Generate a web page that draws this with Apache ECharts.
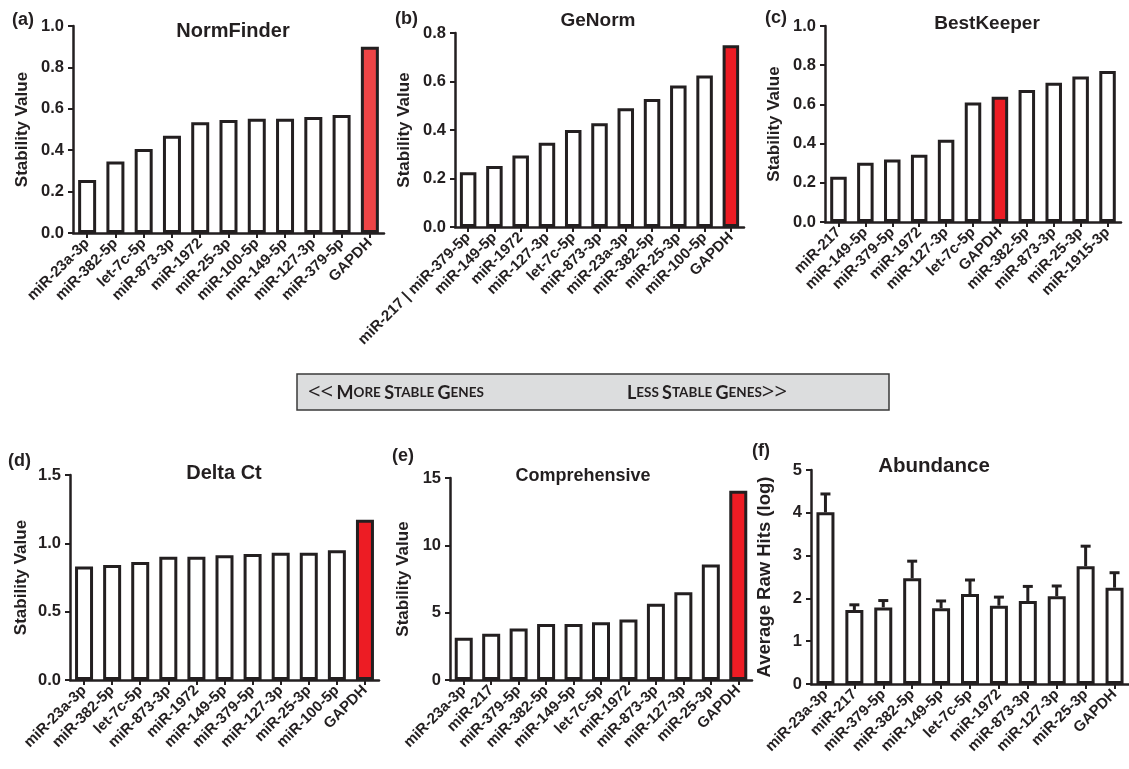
<!DOCTYPE html>
<html>
<head>
<meta charset="utf-8">
<script src="https://cdn.jsdelivr.net/npm/echarts@6/dist/echarts.min.js"></script>
<style>
html,body{margin:0;padding:0;background:#fff;}
#chart{width:1129px;height:769px;}
</style>
</head>
<body>
<div id="chart"></div>
<script>
// ---------- DATA ----------
const normFinderCats = ['miR-23a-3p','miR-382-5p','let-7c-5p','miR-873-3p','miR-1972','miR-25-3p','miR-100-5p','miR-149-5p','miR-127-3p','miR-379-5p','GAPDH'];
const normFinderVals = [0.256,0.345,0.406,0.47,0.535,0.546,0.552,0.552,0.56,0.57,0.90];

const geNormCats = ['miR-217 | miR-379-5p','miR-149-5p','miR-1972','miR-127-3p','let-7c-5p','miR-873-3p','miR-23a-3p','miR-382-5p','miR-25-3p','miR-100-5p','GAPDH'];
const geNormVals = [0.226,0.252,0.295,0.347,0.40,0.428,0.49,0.528,0.583,0.625,0.749];

const bestKeeperCats = ['miR-217','miR-149-5p','miR-379-5p','miR-1972','miR-127-3p','let-7c-5p','GAPDH','miR-382-5p','miR-873-3p','miR-25-3p','miR-1915-3p'];
const bestKeeperVals = [0.231,0.302,0.319,0.343,0.42,0.61,0.639,0.673,0.71,0.742,0.77];

const deltaCtCats = ['miR-23a-3p','miR-382-5p','let-7c-5p','miR-873-3p','miR-1972','miR-149-5p','miR-379-5p','miR-127-3p','miR-25-3p','miR-100-5p','GAPDH'];
const deltaCtVals = [0.831,0.841,0.863,0.902,0.902,0.912,0.922,0.932,0.932,0.949,1.172];

const comprehensiveCats = ['miR-23a-3p','miR-217','miR-379-5p','miR-382-5p','miR-149-5p','let-7c-5p','miR-1972','miR-873-3p','miR-127-3p','miR-25-3p','GAPDH'];
const comprehensiveVals = [3.14,3.44,3.83,4.15,4.15,4.28,4.5,5.66,6.52,8.58,14.06];

const abundanceCats = ['miR-23a-3p','miR-217','miR-379-5p','miR-382-5p','miR-149-5p','let-7c-5p','miR-1972','miR-873-3p','miR-127-3p','miR-25-3p','GAPDH'];
const abundanceVals = [4.01,1.73,1.79,2.47,1.77,2.10,1.83,1.94,2.05,2.75,2.25];
const abundanceErr  = [0.43,0.12,0.16,0.40,0.17,0.33,0.20,0.34,0.24,0.47,0.35];

const panelLetters = ['(a)','(b)','(c)','(d)','(e)','(f)'];
const panelTitles = ['NormFinder','GeNorm','BestKeeper','Delta Ct','Comprehensive','Abundance'];
const bannerLeft = '<< More Stable Genes';
const bannerRight = 'Less Stable Genes>>';

// ---------- STYLE / LAYOUT ----------
const INK = '#231F20';
const FONT = '"Liberation Sans", Arial, sans-serif';
const RED = '#ED1C24';
const RED_LIGHT = '#EE4446';

const panels = [
  {cats: normFinderCats, vals: normFinderVals, red: 10, redColor: RED_LIGHT, max: 1.0, interval: 0.2, dec: 1, name: 'Stability Value', nameSize: 17,
   grid: {left: 73, top: 26, width: 311, height: 207}, nameGap: 42, barWidth: 18},
  {cats: geNormCats, vals: geNormVals, red: 10, redColor: RED, max: 0.8, interval: 0.2, dec: 1, name: 'Stability Value', nameSize: 17,
   grid: {left: 455, top: 33, width: 289, height: 194}, nameGap: 42, barWidth: 16.5},
  {cats: bestKeeperCats, vals: bestKeeperVals, red: 6, redColor: RED, max: 1.0, interval: 0.2, dec: 1, name: 'Stability Value', nameSize: 17,
   grid: {left: 825, top: 26, width: 296, height: 196}, nameGap: 42, barWidth: 16.5},
  {cats: deltaCtCats, vals: deltaCtVals, red: 10, redColor: RED, max: 1.5, interval: 0.5, dec: 1, name: 'Stability Value', nameSize: 17,
   grid: {left: 70, top: 475, width: 309, height: 205}, nameGap: 40, barWidth: 18},
  {cats: comprehensiveCats, vals: comprehensiveVals, red: 10, redColor: RED, max: 15, interval: 5, dec: 0, name: 'Stability Value', nameSize: 17,
   grid: {left: 450, top: 478, width: 302, height: 202}, nameGap: 38, barWidth: 18},
  {cats: abundanceCats, vals: abundanceVals, red: -1, redColor: RED, max: 5, interval: 1, dec: 0, name: 'Average Raw Hits (log)', nameSize: 18.5,
   grid: {left: 811, top: 470, width: 318, height: 214}, nameGap: 37, barWidth: 18}
];

const titleCenters = [[233, 21], [598, 11], [987, 14], [224, 463], [583, 467], [934, 456]];
const titleSizes = [20, 19, 19, 20, 18, 20.5];
const letterPos = [[12, 11], [395, 10], [765, 9], [8, 452], [392, 447], [752, 442]];

const grids = [], xAxes = [], yAxes = [], series = [];

panels.forEach((p, i) => {
  grids.push(Object.assign({containLabel: false}, p.grid));
  xAxes.push({
    type: 'category', gridIndex: i, data: p.cats,
    axisLine: {show: true, lineStyle: {color: INK, width: 2.5}},
    axisTick: {show: true, alignWithLabel: true, length: 5, lineStyle: {color: INK, width: 2}},
    axisLabel: {interval: 0, rotate: 45, margin: 8, color: INK, fontFamily: FONT, fontWeight: 'bold', fontSize: 15},
    splitLine: {show: false}
  });
  yAxes.push({
    type: 'value', gridIndex: i, min: 0, max: p.max, interval: p.interval,
    name: p.name, nameLocation: 'middle', nameGap: p.nameGap,
    nameTextStyle: {color: INK, fontFamily: FONT, fontWeight: 'bold', fontSize: p.nameSize},
    axisLine: {show: true, lineStyle: {color: INK, width: 2.5}},
    axisTick: {show: true, length: 5, lineStyle: {color: INK, width: 2}},
    axisLabel: {margin: 9, color: INK, fontFamily: FONT, fontWeight: 'bold', fontSize: 16.5,
      formatter: v => v.toFixed(p.dec)},
    splitLine: {show: false}
  });
  series.push({
    type: 'bar', xAxisIndex: i, yAxisIndex: i, barWidth: p.barWidth, silent: true,
    itemStyle: {color: '#ffffff', borderColor: INK, borderWidth: 3},
    data: p.vals.map((v, k) => k === p.red ? {value: v, itemStyle: {color: p.redColor}} : v),
    z: 2
  });
});

// error bars for Abundance
series.push({
  type: 'custom', xAxisIndex: 5, yAxisIndex: 5, silent: true, z: 3,
  data: abundanceVals.map((v, k) => [k, v, abundanceErr[k]]),
  renderItem: function (params, api) {
    const x = api.value(0), v = api.value(1), e = api.value(2);
    const base = api.coord([x, v]);
    const top = api.coord([x, v + e]);
    const half = 5;
    const st = {stroke: INK, lineWidth: 3};
    return {type: 'group', children: [
      {type: 'line', shape: {x1: base[0], y1: base[1], x2: top[0], y2: top[1]}, style: st},
      {type: 'line', shape: {x1: top[0] - half, y1: top[1], x2: top[0] + half, y2: top[1]}, style: st}
    ]};
  }
});

const graphics = [];
panelTitles.forEach((t, i) => {
  graphics.push({type: 'text', x: titleCenters[i][0], y: titleCenters[i][1],
    style: {text: t, fill: INK, font: 'bold ' + titleSizes[i] + 'px ' + FONT, align: 'center', verticalAlign: 'top'}});
});
panelLetters.forEach((t, i) => {
  graphics.push({type: 'text', x: letterPos[i][0], y: letterPos[i][1],
    style: {text: t, fill: INK, font: 'bold 18px ' + FONT, align: 'left', verticalAlign: 'top'}});
});

// banner
const smallCaps = s => s.split(' ').map(w => '{b|' + w[0] + '}{s|' + w.slice(1).toUpperCase() + '}').join('{s| }');
graphics.push({type: 'rect', shape: {x: 297, y: 374, width: 592, height: 36},
  style: {fill: '#DCDDDE', stroke: '#3a3a3a', lineWidth: 1.5}});
const bl = bannerLeft.replace('<< ', '');
const br = bannerRight.replace('>>', '');
const bannerRich = {
  a: {fontSize: 22, fontFamily: '"Open Sans", Lato, sans-serif', fontWeight: 'normal', fill: INK},
  b: {fontSize: 18, fontFamily: 'Lato, "Open Sans", sans-serif', fontWeight: 'bold', fill: INK},
  s: {fontSize: 13.5, fontFamily: 'Lato, "Open Sans", sans-serif', fontWeight: 'bold', fill: INK}
};
graphics.push({type: 'text', x: 308, y: 393, style: {
  text: '{a|<<} ' + smallCaps(bl), fill: INK, verticalAlign: 'middle', align: 'left', rich: bannerRich
}});
graphics.push({type: 'text', x: 787, y: 393, style: {
  text: smallCaps(br) + '{a|>>}', fill: INK, verticalAlign: 'middle', align: 'right', rich: bannerRich
}});

const chart = echarts.init(document.getElementById('chart'), null, {renderer: 'canvas'});
chart.setOption({
  backgroundColor: '#ffffff',
  animation: false,
  grid: grids,
  xAxis: xAxes,
  yAxis: yAxes,
  series: series,
  graphic: graphics
});
</script>
</body>
</html>
